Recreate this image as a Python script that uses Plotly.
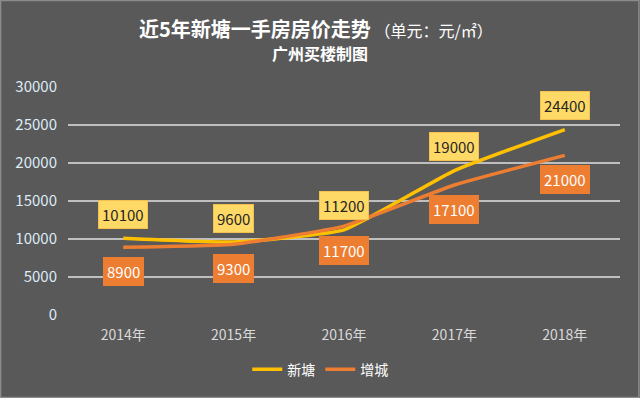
import plotly.graph_objects as go

years = ["2014年", "2015年", "2016年", "2017年", "2018年"]
xintang = [10100, 9600, 11200, 19000, 24400]
zengcheng = [8900, 9300, 11700, 17100, 21000]
y_ticks = [0, 5000, 10000, 15000, 20000, 25000, 30000]

FONT = "Noto Sans CJK SC, Microsoft YaHei, sans-serif"
BG = "#595959"
C1 = "#FFC000"
C2 = "#ED7D31"

fig = go.Figure()
fig.add_trace(go.Scatter(x=years, y=xintang, name="新塘", mode="lines",
                         line=dict(color=C1, width=3.5, shape="spline", smoothing=0.4)))
fig.add_trace(go.Scatter(x=years, y=zengcheng, name="增城", mode="lines",
                         line=dict(color=C2, width=3.5, shape="spline", smoothing=0.4)))

annotations = []
for x, v in zip(years, xintang):
    annotations.append(dict(x=x, y=v, xref="x", yref="y", text=str(v), showarrow=False,
                            yshift=24, bgcolor="#FFD966", bordercolor="#F2C14E", borderwidth=1,
                            borderpad=3, font=dict(family=FONT, size=15, color="#262626")))
for x, v in zip(years, zengcheng):
    annotations.append(dict(x=x, y=v, xref="x", yref="y", text=str(v), showarrow=False,
                            yshift=-24, bgcolor=C2, bordercolor=C2, borderwidth=1,
                            borderpad=3, font=dict(family=FONT, size=15, color="#FFFFFF")))

annotations.append(dict(x=0.5, y=1, xref="paper", yref="paper", yanchor="middle",
                        yshift=59, xshift=-28, showarrow=False,
                        text="<b>近5年新塘一手房房价走势</b><span style='font-size:16px'> （单元：元/㎡）</span>",
                        font=dict(family=FONT, size=20, color="#FFFFFF")))
annotations.append(dict(x=0.5, y=1, xref="paper", yref="paper", yanchor="middle",
                        yshift=34, xshift=-24, showarrow=False,
                        text="<b>广州买楼制图</b>",
                        font=dict(family=FONT, size=16, color="#FFFFFF")))

fig.update_layout(
    width=640, height=398,
    margin=dict(l=68, r=20, t=87, b=83, autoexpand=False),
    paper_bgcolor=BG, plot_bgcolor=BG,
    font=dict(family=FONT, size=13, color="#D9D9D9"),
    showlegend=True,
    legend=dict(orientation="h", x=0.457, xanchor="center", y=-0.17, yanchor="top",
                font=dict(family=FONT, size=14, color="#FFFFFF"), bgcolor="rgba(0,0,0,0)",
                itemwidth=30, tracegroupgap=0),
    annotations=annotations,
    xaxis=dict(showgrid=False, showline=False, zeroline=False, ticks="", range=[-0.5, 4.5],
               ticklabelstandoff=10,
               tickfont=dict(family=FONT, size=14, color="#D9D9D9"), fixedrange=True),
    yaxis=dict(range=[0, 30000], tickvals=y_ticks, ticktext=[str(t) for t in y_ticks],
               showgrid=True, gridcolor="#BFBFBF", gridwidth=1.5, zeroline=False,
               showline=False, ticks="", ticklabelstandoff=10, fixedrange=True,
               tickfont=dict(family=FONT, size=15, color="#DDEBF7")),
    shapes=[dict(type="rect", xref="paper", yref="paper",
                 x0=-68/552 + 0.001, x1=1 + 20/552 - 0.002, y0=-83/228 + 0.002, y1=1 + 87/228 - 0.002,
                 line=dict(color="#8C8C8C", width=1.5), fillcolor="rgba(0,0,0,0)")],
)

fig.write_html("out.html", config={"displayModeBar": False},
               post_script="document.body.style.margin='0';document.body.style.background='#595959';")
